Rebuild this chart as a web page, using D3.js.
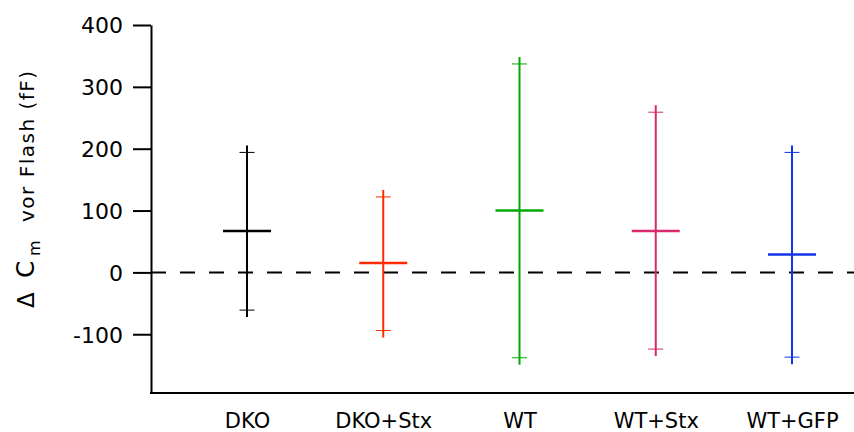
<!DOCTYPE html>
<html>
<head>
<meta charset="utf-8">
<script src="https://cdn.jsdelivr.net/npm/d3@7"></script>
<style>
  body { margin: 0; background: #fff; }
  text { font-family: "DejaVu Sans", sans-serif; fill: #000; }
</style>
</head>
<body>
<div id="chart"></div>
<script>
// chart values
var categories = ["DKO", "DKO+Stx", "WT", "WT+Stx", "WT+GFP"];
var means = [67, 15, 100, 67, 29];
var upper = [194, 122, 337, 259, 194];
var lower = [-61, -94, -138, -124, -137];
var colors = ["#000000", "#ff2a00", "#00a800", "#d92a6c", "#1234e6"];
var yTicks = [-100, 0, 100, 200, 300, 400];

var svgWidth = 854;
var svgHeight = 432;

var margin = { top: 25, right: 0, bottom: 39, left: 151 };
var width = svgWidth - margin.left - margin.right;
var height = svgHeight - margin.top - margin.bottom;

var svg = d3.select("#chart")
  .append("svg")
  .attr("width", svgWidth)
  .attr("height", svgHeight);

svg.append("rect")
  .attr("width", svgWidth)
  .attr("height", svgHeight)
  .attr("fill", "#fff");

var chartGroup = svg.append("g")
  .attr("transform", `translate(${margin.left}, ${margin.top})`);

// scales
var yScale = d3.scaleLinear()
  .domain([-195, 400])
  .range([height, 0]);

var xScale = d3.scalePoint()
  .domain(categories)
  .range([96, width - 62]);

// zero line (under the bars)
chartGroup.append("line")
  .attr("x1", 0)
  .attr("x2", width)
  .attr("y1", yScale(0))
  .attr("y2", yScale(0))
  .attr("stroke", "#000")
  .attr("stroke-width", 2)
  .attr("stroke-dasharray", "15,14");

// left axis
var leftAxis = d3.axisLeft(yScale)
  .tickValues(yTicks)
  .tickFormat(d => String(d))
  .tickSize(18)
  .tickSizeOuter(0)
  .tickPadding(10);

var yAxisG = chartGroup.append("g").call(leftAxis);
yAxisG.select(".domain").attr("stroke-width", 2);
yAxisG.selectAll(".tick line").attr("stroke-width", 2);
yAxisG.selectAll(".tick text")
  .style("font-size", "22px")
  .attr("dy", "0.36em");

// bottom axis: plain line + category labels
chartGroup.append("line")
  .attr("x1", -1)
  .attr("x2", width)
  .attr("y1", height)
  .attr("y2", height)
  .attr("stroke", "#000")
  .attr("stroke-width", 2);

var bottomAxis = d3.axisBottom(xScale)
  .tickSize(0)
  .tickPadding(20);

var xAxisG = chartGroup.append("g")
  .attr("transform", `translate(0, ${height})`)
  .call(bottomAxis);
xAxisG.select(".domain").remove();
xAxisG.selectAll(".tick text").style("font-size", "21px");

// error bars
var bars = chartGroup.selectAll(".bar")
  .data(categories)
  .enter()
  .append("g")
  .attr("class", "bar");

bars.append("line")
  .attr("x1", d => xScale(d))
  .attr("x2", d => xScale(d))
  .attr("y1", (d, i) => yScale(upper[i]) - 7)
  .attr("y2", (d, i) => yScale(lower[i]) + 7)
  .attr("stroke", (d, i) => colors[i])
  .attr("stroke-width", 2);

bars.append("line")
  .attr("x1", d => xScale(d) - 7.5)
  .attr("x2", d => xScale(d) + 7.5)
  .attr("y1", (d, i) => yScale(upper[i]))
  .attr("y2", (d, i) => yScale(upper[i]))
  .attr("stroke", (d, i) => colors[i])
  .attr("stroke-width", 1);

bars.append("line")
  .attr("x1", d => xScale(d) - 7.5)
  .attr("x2", d => xScale(d) + 7.5)
  .attr("y1", (d, i) => yScale(lower[i]))
  .attr("y2", (d, i) => yScale(lower[i]))
  .attr("stroke", (d, i) => colors[i])
  .attr("stroke-width", 1);

bars.append("line")
  .attr("x1", d => xScale(d) - 24)
  .attr("x2", d => xScale(d) + 24)
  .attr("y1", (d, i) => yScale(means[i]))
  .attr("y2", (d, i) => yScale(means[i]))
  .attr("stroke", (d, i) => colors[i])
  .attr("stroke-width", 2.5);

// y axis title: "Δ  C_m  vor Flash (fF)"
var yTitle = svg.append("g")
  .attr("transform", "translate(34, 0) rotate(-90)");

yTitle.append("text")
  .attr("x", -308)
  .attr("y", 0)
  .style("font-size", "23px")
  .text("\u0394");

yTitle.append("text")
  .attr("x", -278)
  .attr("y", 0)
  .style("font-size", "25px")
  .text("C");

yTitle.append("text")
  .attr("x", -256)
  .attr("y", 6)
  .style("font-size", "16px")
  .text("m");

yTitle.append("text")
  .attr("x", -222)
  .attr("y", 0)
  .style("font-size", "20px")
  .style("letter-spacing", "1.5px")
  .text("vor Flash (fF)");
</script>
</body>
</html>
